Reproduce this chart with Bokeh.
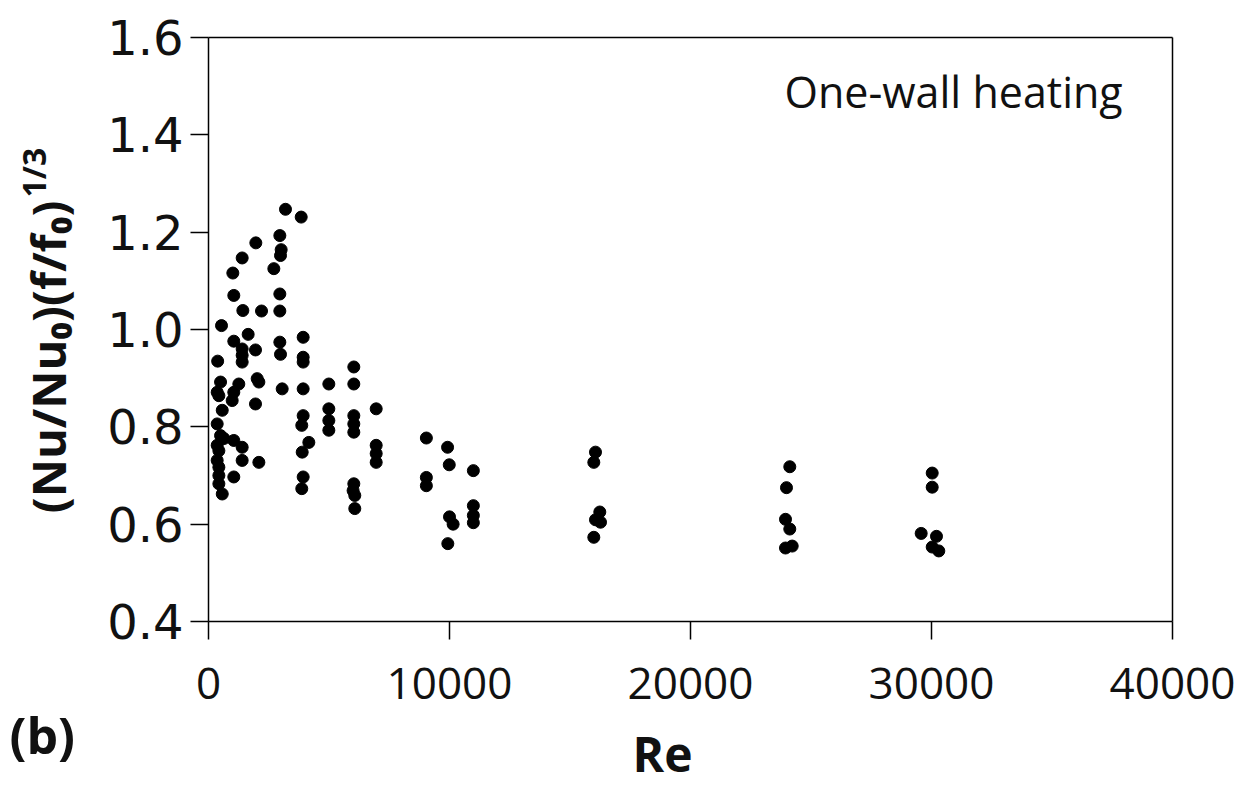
import numpy as np
from bokeh.plotting import figure
from bokeh.models import Label, Range1d, FixedTicker, ColumnDataSource, LinearAxis
from bokeh.embed import file_html
from bokeh.resources import INLINE

# Data (Re, (Nu/Nu0)(f/f0)^(1/3))
re_vals = [
    380, 540, 500, 360, 430, 570, 360, 500, 640, 360, 430, 360, 430, 430, 430, 570,
    1010, 1050, 1050, 1050, 983, 1050, 1050, 1258,
    1397, 1425, 1397, 1397, 1397, 1397, 1397, 1646,
    1964, 1950, 2020, 2090, 1950, 2090, 2200,
    3195, 2960, 3015, 2988, 2711, 2960, 2960, 2960, 2988, 3057,
    3846, 3928, 3928, 3928, 3928, 3928, 3870, 4163, 3888, 3928, 3870,
    4993, 4993, 4993, 4993,
    6030, 6030, 6030, 6030, 6030, 6030, 6000, 6070, 6070,
    6958, 6958, 6958, 6958,
    9040, 9040, 9040,
    9920, 9990, 10000, 10150, 9930,
    10990, 10990, 10990, 10990,
    16058, 15988, 16237, 16058, 16266, 15988,
    24120, 23983, 23942, 24120, 23942, 24220,
    30029, 30029, 29572, 30207, 30029, 30303,
]
y_vals = [
    0.935, 1.008, 0.892, 0.871, 0.864, 0.834, 0.806, 0.782, 0.776, 0.762, 0.751, 0.731, 0.717, 0.700, 0.683, 0.662,
    1.116, 1.070, 0.976, 0.871, 0.854, 0.772, 0.697, 0.888,
    1.147, 1.039, 0.960, 0.947, 0.933, 0.758, 0.731, 0.990,
    1.178, 0.958, 0.899, 0.892, 0.847, 0.727, 1.038,
    1.247, 1.193, 1.164, 1.152, 1.125, 1.073, 1.038, 0.974, 0.949, 0.878,
    1.231, 0.984, 0.943, 0.933, 0.878, 0.823, 0.803, 0.768, 0.748, 0.697, 0.673,
    0.888, 0.837, 0.813, 0.793,
    0.923, 0.888, 0.823, 0.806, 0.789, 0.683, 0.669, 0.659, 0.632,
    0.837, 0.762, 0.745, 0.727,
    0.777, 0.696, 0.679,
    0.758, 0.722, 0.615, 0.600, 0.560,
    0.710, 0.638, 0.618, 0.603,
    0.748, 0.727, 0.625, 0.609, 0.604, 0.573,
    0.718, 0.675, 0.610, 0.590, 0.551, 0.555,
    0.705, 0.676, 0.581, 0.575, 0.553, 0.545,
]
x_ticks = [0, 10000, 20000, 30000, 40000]
y_ticks = [0.4, 0.6, 0.8, 1.0, 1.2, 1.4, 1.6]
x_min, x_max = 0, 40000
y_min, y_max = 0.4, 1.6

# Page geometry (pixels): plot box inside the 1252x791 canvas
W, H = 1252, 791
BOX_L, BOX_R, BOX_T, BOX_B = 208, 1172, 37, 621
dx = (x_max - x_min) / (BOX_R - BOX_L)
dy = (y_max - y_min) / (BOX_B - BOX_T)


def px_x(px):
    return x_min + (px - BOX_L) * dx


def px_y(py):
    return y_max - (py - BOX_T) * dy


src = ColumnDataSource(dict(re=re_vals, y=y_vals))

# The frame fills the whole canvas; axes are pinned at the data box edges
p = figure(width=W, height=H, output_backend="svg", toolbar_location=None,
           x_range=Range1d(px_x(0), px_x(W)), y_range=Range1d(px_y(H), px_y(0)),
           x_axis_location=None, y_axis_location=None)
p.min_border = 0
p.min_border_left = 0
p.min_border_right = 0
p.min_border_top = 0
p.min_border_bottom = 0
p.outline_line_color = None
p.background_fill_color = "white"
p.border_fill_color = "white"
p.grid.visible = False

p.scatter("re", "y", source=src, size=12, color="black", marker="circle")


def style_axis(ax):
    ax.axis_line_color = "black"
    ax.axis_line_width = 1.5
    ax.major_tick_line_color = "black"
    ax.major_tick_line_width = 1.5
    ax.major_tick_in = 0
    ax.major_tick_out = 18
    ax.minor_tick_line_color = None


xaxis = LinearAxis(fixed_location=y_min, bounds=(x_min, x_max),
                   ticker=FixedTicker(ticks=x_ticks))
style_axis(xaxis)
xaxis.major_label_overrides = {t: str(t) for t in x_ticks}
xaxis.major_label_text_font = "'Liberation Sans Narrow', 'Open Sans'"
xaxis.major_label_text_font_size = "44px"
xaxis.major_label_text_color = "#111111"
xaxis.major_label_standoff = 28
p.add_layout(xaxis, "below")

yaxis = LinearAxis(fixed_location=x_min, bounds=(y_min, y_max),
                   ticker=FixedTicker(ticks=y_ticks))
style_axis(yaxis)
yaxis.major_label_overrides = {t: f"{t:.1f}" for t in y_ticks}
yaxis.major_label_text_font = "DejaVu Sans"
yaxis.major_label_text_font_size = "48px"
yaxis.major_label_text_color = "#111111"
yaxis.major_label_standoff = 7
p.add_layout(yaxis, "left")

# box edges on top and right
top_ax = LinearAxis(fixed_location=y_max, bounds=(x_min, x_max),
                    ticker=FixedTicker(ticks=[]))
right_ax = LinearAxis(fixed_location=x_max, bounds=(y_min, y_max),
                      ticker=FixedTicker(ticks=[]))
for ax in (top_ax, right_ax):
    ax.axis_line_color = "black"
    ax.axis_line_width = 1.5
    ax.major_tick_line_color = None
    ax.minor_tick_line_color = None
    ax.major_label_text_color = None
p.add_layout(top_ax, "above")
p.add_layout(right_ax, "right")

# Texts
p.add_layout(Label(x=px_x(47), y=px_y(200), text="(Nu/Nu₀)(f/f₀)", angle=np.pi / 2,
                   text_align="right", text_baseline="alphabetic",
                   text_font="'Open Sans'", text_font_style="bold",
                   text_font_size="47px", text_color="#111111"))
p.add_layout(Label(x=px_x(33), y=px_y(197), text="1/3", angle=np.pi / 2,
                   text_align="left", text_baseline="alphabetic",
                   text_font="'Open Sans'", text_font_style="bold",
                   text_font_size="32px", text_color="#111111"))

p.add_layout(Label(x=px_x(784), y=1.489, text="One-wall heating",
                   text_font="'Open Sans'", text_font_size="43px",
                   text_color="#111111", text_baseline="alphabetic"))

p.add_layout(Label(x=px_x(9), y=px_y(734), text="(b)",
                   text_font="'Open Sans'", text_font_style="bold",
                   text_font_size="50px", text_color="#111111",
                   text_baseline="alphabetic"))

p.add_layout(Label(x=px_x(632), y=px_y(753), text="Re",
                   text_font="'Open Sans'", text_font_style="bold",
                   text_font_size="48px", text_color="#111111",
                   text_baseline="alphabetic"))

open("out.html", "w").write(file_html(p, INLINE))
